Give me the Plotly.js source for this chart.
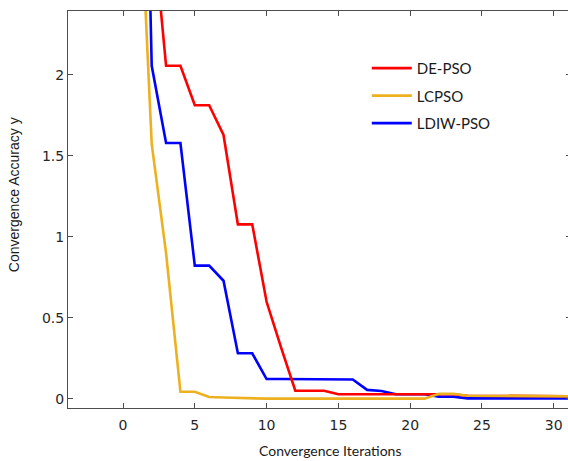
<!DOCTYPE html>
<html>
<head>
<meta charset="utf-8">
<script src="https://cdn.plot.ly/plotly-3.0.1.min.js"></script>
<style>
  html, body { margin: 0; padding: 0; background: #fff; overflow: hidden; }
  #chart { width: 572px; height: 461px; }
</style>
</head>
<body>
<div id="chart"></div>
<script>
// Iteration index shared by all three optimisers
const iterations = [1, 2, 3, 4, 5, 6, 7, 8, 9, 10, 11, 12, 13, 14, 15, 16,
                    17, 18, 19, 20, 21, 22, 23, 24, 25, 26, 27, 28, 29, 30, 31, 32];

// Convergence accuracy per iteration
const dePso = [4.2, 3.0, 2.057, 2.057, 1.813, 1.813, 1.63, 1.078, 1.078, 0.60, 0.32, 0.051,
               0.051, 0.051, 0.029, 0.029, 0.029, 0.029, 0.029, 0.029, 0.029, 0.029, 0.029, 0.02,
               0.02, 0.02, 0.02, 0.02, 0.017, 0.017, 0.017, 0.017];
const lcPso = [3.5, 1.574, 0.90, 0.045, 0.045, 0.012, 0.009, 0.006, 0.003, 0.002, 0.002, 0.002,
               0.002, 0.002, 0.002, 0.002, 0.002, 0.002, 0.002, 0.002, 0.002, 0.032, 0.032, 0.02,
               0.02, 0.02, 0.02, 0.02, 0.017, 0.017, 0.017, 0.017];
const ldiwPso = [5.9, 2.057, 1.58, 1.58, 0.823, 0.823, 0.73, 0.282, 0.282, 0.123, 0.123, 0.123,
                 0.123, 0.123, 0.12, 0.12, 0.056, 0.049, 0.029, 0.029, 0.029, 0.014, 0.014, 0.004,
                 0.004, 0.004, 0.003, 0.003, 0.003, 0.003, 0.003, 0.003];

const seriesNames = ['DE-PSO', 'LCPSO', 'LDIW-PSO'];
const seriesColors = ['#ff0000', '#edb120', '#0000ff'];

const xTicks = [0, 5, 10, 15, 20, 25, 30];
const yTicks = [0, 0.5, 1, 1.5, 2];

function series(y, i, rank) {
  return {
    x: iterations, y: y, type: 'scatter', mode: 'lines',
    name: seriesNames[i], legendgroup: seriesNames[i], legendrank: rank,
    line: { color: seriesColors[i], width: 2.6 },
    hoverinfo: 'skip'
  };
}

// Blue underneath, red over it, gold on top
const traces = [
  series(ldiwPso, 2, 3),
  series(dePso, 0, 1),
  series(lcPso, 1, 2)
];

const axisCommon = {
  showgrid: false, zeroline: false,
  showline: true, linecolor: '#4d4d4d', linewidth: 1,
  mirror: 'ticks', ticks: 'inside', ticklen: 5, tickwidth: 1, tickcolor: '#4d4d4d',
  tickfont: { family: 'DejaVu Sans, sans-serif', size: 14, color: '#262626' }
};

const layout = {
  width: 572, height: 461,
  margin: { l: 68, r: 1, t: 11, b: 53 },
  paper_bgcolor: '#ffffff', plot_bgcolor: '#ffffff',
  showlegend: true,
  legend: {
    x: 0.594, y: 0.897, xanchor: 'left', yanchor: 'top',
    bgcolor: 'rgba(0,0,0,0)', borderwidth: 0,
    traceorder: 'grouped', tracegroupgap: 5, itemwidth: 40,
    font: { family: 'Lato, sans-serif', size: 15, color: '#1a1a1a' }
  },
  xaxis: Object.assign({}, axisCommon, {
    range: [-3.83, 31.2], tickvals: xTicks, ticktext: xTicks.map(String),
    ticklabelstandoff: 4
  }),
  yaxis: Object.assign({}, axisCommon, {
    range: [-0.0556, 2.395], tickvals: yTicks, ticktext: yTicks.map(String)
  }),
  annotations: [
    {
      text: 'Convergence Iterations', xref: 'paper', yref: 'paper',
      x: 0.52, y: -0.108, xanchor: 'center', yanchor: 'middle', showarrow: false,
      font: { family: 'Lato, sans-serif', size: 14, color: '#1a1a1a' }
    },
    {
      text: 'Convergence Accuracy y', xref: 'paper', yref: 'paper',
      x: -0.107, y: 0.5365, xanchor: 'center', yanchor: 'middle', showarrow: false,
      textangle: -90,
      font: { family: 'Liberation Sans, Arial, sans-serif', size: 14, color: '#1a1a1a' }
    }
  ]
};

Plotly.newPlot('chart', traces, layout, { staticPlot: true, displayModeBar: false });
</script>
</body>
</html>
